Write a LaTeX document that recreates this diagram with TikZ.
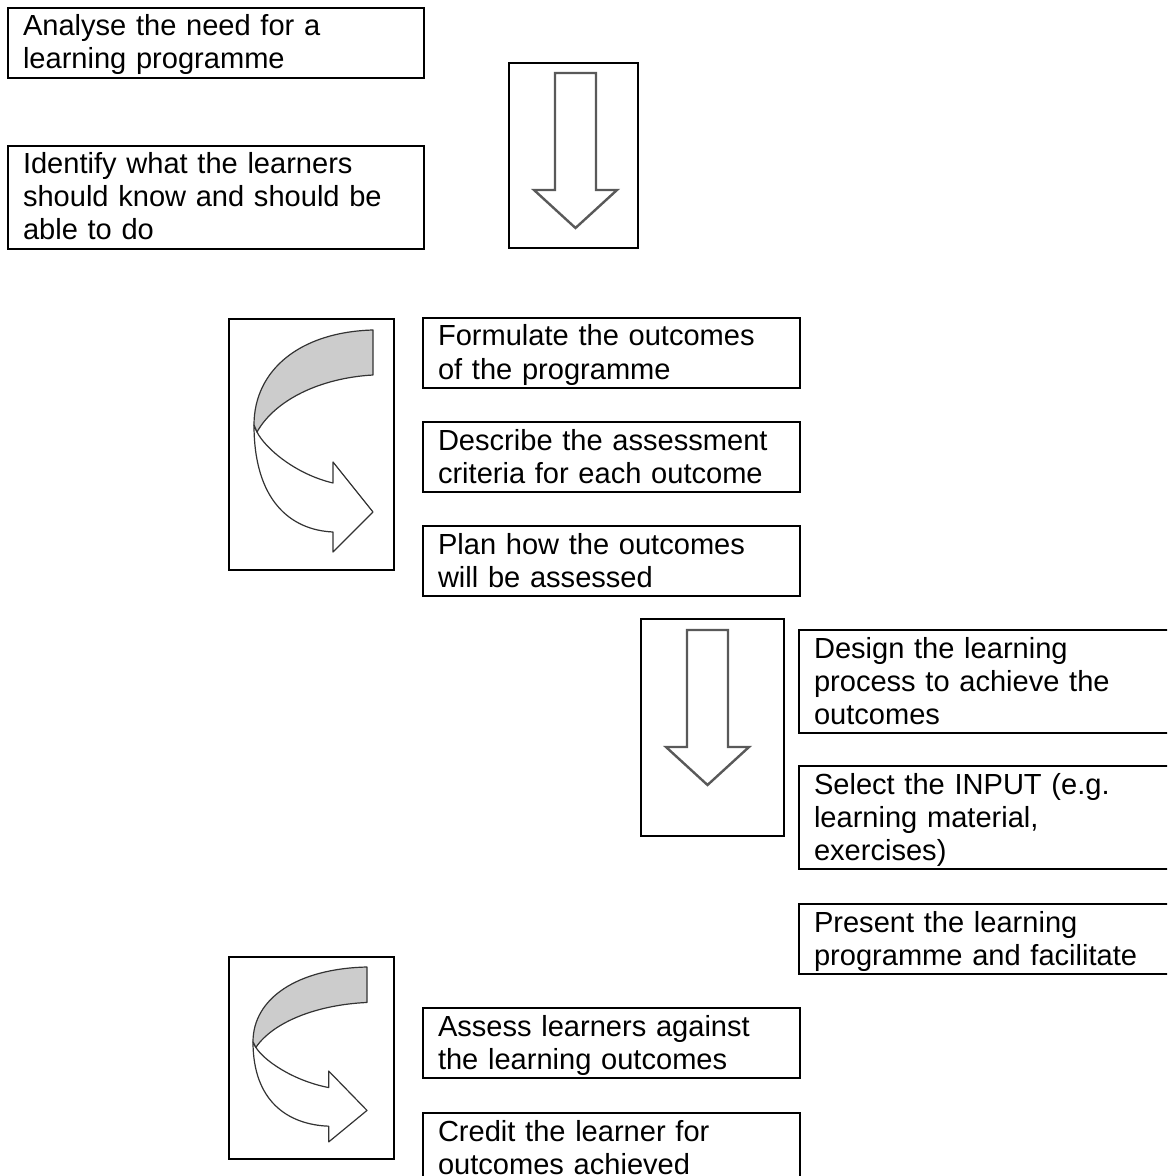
\documentclass[tikz,border=0pt]{standalone}
\usepackage{fontspec}
\setmainfont{Liberation Sans}
\usepackage{tikz}

\begin{document}
\begin{tikzpicture}[
      x=0.75pt, y=-0.75pt,
      stepbox/.style = {
        rectangle, draw=black, line width=1.5pt, anchor=north west,
        inner xsep=11.25pt, inner ysep=0pt, align=left,
        font=\fontsize{21.8pt}{24.75pt}\selectfont, text=black,
        execute at begin node={\rule{0pt}{21pt}},
        execute at end node={\rule[-6.4pt]{0pt}{6.4pt}}
      },
      widebox/.style = {stepbox, text width=289.5pt},
      narrowbox/.style = {stepbox, text width=260.25pt},
      arrowframe/.style = {
        rectangle, draw=black, line width=1.5pt, anchor=north west, inner sep=0pt
      },
      downarrow/.pic = {
        \draw[draw=black!65, line width=1.8pt, fill=white]
          (0,0) -- (41,0) -- (41,117) -- (62,117) -- (20.5,155)
          -- (-21,117) -- (0,117) -- cycle;
      },
      curlarrow/.pic = {
        \draw[draw=black!80, line width=0.9pt, fill=white, line join=round]
          (3,102) .. controls (11,118) and (41,144) .. (79,153) -- (79,132)
          -- (119,182) -- (79,222) -- (79,202)
          .. controls (36,200) and (0,170) .. (0,95) -- cycle;
        \draw[draw=black!80, line width=0.9pt, fill=black!20, line join=round]
          (119,0) -- (119,45) .. controls (66,48) and (21,70) .. (3,102)
          -- (0,95) .. controls (0,40) and (46,2) .. (119,0) -- cycle;
      }
    ]

    \useasboundingbox (0,0) rectangle (1167,1176);
    \clip (0,0) rectangle (1167,1176);

    \node[widebox] (analyse)  at (7,7)   {Analyse the need for a\\ learning programme};
    \node[widebox] (identify) at (7,145) {Identify what the learners\\ should know and should be\\ able to do};

    \node[arrowframe, minimum width=96.75pt, minimum height=138.75pt] (dropA) at (508,62) {};
    \pic[shift={(47,11)}] at (dropA.north west) {downarrow};

    \node[arrowframe, minimum width=123.75pt, minimum height=188.25pt] (bendA) at (228,318) {};
    \pic[shift={(26,12)}] at (bendA.north west) {curlarrow};

    \node[narrowbox] (formulate) at (422,317) {Formulate the outcomes\\ of the programme};
    \node[narrowbox] (describe)  at (422,421) {Describe the assessment\\ criteria for each outcome};
    \node[narrowbox] (plan)      at (422,525) {Plan how the outcomes\\ will be assessed};

    \node[arrowframe, minimum width=107.25pt, minimum height=162.75pt] (dropB) at (640,618) {};
    \pic[shift={(47,12)}] at (dropB.north west) {downarrow};

    \node[narrowbox] (design)  at (798,629) {Design the learning\\ process to achieve the\\ outcomes};
    \node[narrowbox] (select)  at (798,765) {Select the INPUT (e.g.\\ learning material,\\ exercises)};
    \node[narrowbox] (present) at (798,903) {Present the learning\\ programme and facilitate};

    \node[arrowframe, minimum width=123.75pt, minimum height=151.5pt] (bendB) at (228,956) {};
    \pic[shift={(25,11)}, xscale=0.958, yscale=0.788] at (bendB.north west) {curlarrow};

    \node[narrowbox] (assess) at (422,1007) {Assess learners against\\ the learning outcomes};
    \node[narrowbox] (credit) at (422,1112) {Credit the learner for\\ outcomes achieved};

  \end{tikzpicture}
\end{document}
